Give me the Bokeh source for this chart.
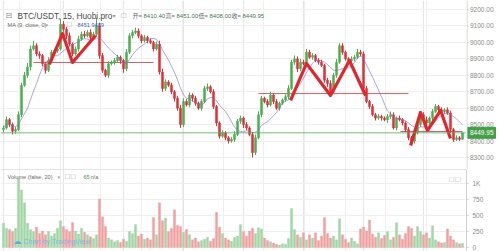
import numpy as np
from bokeh.plotting import figure
from bokeh.layouts import column, row
from bokeh.models import (ColumnDataSource, Range1d, FixedTicker, Grid, Label,
                          Span)
from bokeh.embed import file_html
from bokeh.resources import INLINE
from bokeh.core.properties import value

# ---------------- data ----------------
first_open = 8470.0
closes = [8480, 8530, 8500, 8460, 8470, 8560, 8740, 8800, 8850, 8960,
          8980, 8930, 8920, 8870, 8830, 8890, 8940, 8950, 8960, 9110,
          9080, 9040, 8990, 8930, 8960, 9020, 9050, 9040, 9060, 9030,
          9050, 9100, 8920, 8830, 8800, 8870, 8880, 8890, 8910, 8890,
          8840, 8940, 9040, 9060, 9070, 9040, 9010, 9030, 9010, 9000,
          8960, 8990, 8820, 8720, 8760, 8740, 8700, 8660, 8600, 8500,
          8640, 8620, 8680, 8660, 8630, 8600, 8640, 8720, 8730, 8700,
          8610, 8510, 8430, 8450, 8420, 8400, 8410, 8440, 8520, 8540,
          8500, 8480, 8440, 8330, 8420, 8560, 8660, 8640, 8620, 8680,
          8640, 8600, 8630, 8650, 8670, 8720, 8880, 8900, 8840, 8880,
          8870, 8940, 8910, 8920, 8890, 8880, 8860, 8770, 8750, 8700,
          8800, 8880, 8980, 8940, 8900, 8890, 8900, 8910, 8940, 8930,
          8720, 8640, 8610, 8560, 8540, 8550, 8540, 8530, 8550, 8560,
          8480, 8540, 8530, 8510, 8470, 8420, 8400, 8450, 8500, 8560,
          8530, 8510, 8540, 8580, 8610, 8590, 8580, 8590, 8570, 8470,
          8410, 8420, 8410.4, 8449.95]
wick_up = [15, 20, 10, 12, 15, 20, 15, 20, 25, 20,
           30, 15, 15, 10, 12, 20, 15, 10, 20, 35,
           20, 15, 20, 10, 15, 20, 15, 20, 15, 20,
           15, 50, 20, 15, 10, 15, 10, 15, 15, 10,
           10, 20, 15, 15, 20, 15, 10, 15, 10, 15,
           10, 15, 20, 20, 15, 10, 15, 10, 15, 20,
           20, 15, 15, 10, 15, 10, 15, 15, 20, 10,
           15, 10, 10, 15, 10, 10, 15, 20, 15, 15,
           10, 15, 10, 15, 20, 20, 15, 10, 15, 20,
           10, 15, 10, 10, 15, 20, 15, 20, 15, 20,
           15, 20, 15, 15, 10, 15, 15, 10, 15, 20,
           15, 20, 15, 15, 10, 10, 15, 15, 20, 15,
           15, 15, 10, 15, 10, 15, 10, 10, 15, 20,
           15, 10, 15, 10, 10, 15, 10, 15, 10, 15,
           15, 20, 10, 15, 15, 10, 15, 10, 15, 15,
           10, 15, 10, 1.05]
wick_dn = [15, 10, 15, 20, 15, 10, 15, 10, 15, 20,
           10, 15, 20, 15, 20, 10, 15, 10, 15, 10,
           15, 20, 15, 15, 10, 15, 10, 15, 10, 15,
           10, 15, 20, 15, 10, 15, 10, 15, 10, 20,
           25, 15, 10, 15, 10, 15, 15, 10, 15, 10,
           15, 10, 15, 20, 15, 10, 15, 20, 15, 20,
           15, 10, 15, 20, 15, 10, 15, 10, 15, 10,
           15, 20, 15, 10, 15, 15, 10, 15, 10, 15,
           20, 15, 10, 30, 15, 10, 15, 10, 15, 10,
           15, 10, 15, 10, 10, 15, 10, 15, 20, 15,
           10, 15, 10, 15, 10, 15, 10, 15, 20, 15,
           10, 15, 10, 15, 10, 15, 10, 15, 10, 15,
           15, 10, 15, 10, 15, 10, 15, 10, 20, 15,
           10, 15, 10, 15, 15, 15, 10, 15, 10, 15,
           10, 15, 10, 15, 10, 15, 10, 15, 10, 20,
           15, 10, 10, 2.4]
volumes = [380, 300, 280, 250, 300, 1080, 900, 700, 380, 280,
           250, 320, 220, 260, 200, 250, 180, 220, 300, 420,
           330, 280, 250, 390, 260, 210, 300, 240, 200, 170,
           140, 200, 760, 480, 330, 150, 120, 90, 110, 80,
           130, 100, 250, 220, 360, 180, 210, 130, 150, 120,
           470, 200, 700, 420, 460, 250, 300, 590, 350, 330,
           240, 280, 200, 120, 150, 90, 110, 130, 160, 100,
           140, 550, 320, 220, 150, 120, 100, 160, 180, 360,
           250, 180, 260, 300, 220, 310, 290, 150, 110, 90,
           70, 50, 40, 60, 50, 140, 610, 280, 200, 160,
           230, 120, 200, 150, 230, 110, 180, 470, 220, 150,
           180, 120, 450, 200, 130, 80, 150, 100, 60, 290,
           320, 260, 430, 210, 160, 230, 140, 190, 250, 120,
           160, 390, 200, 130, 220, 330, 300, 180, 330, 250,
           200, 230, 150, 340, 120, 90, 70, 80, 290, 180,
           120, 80, 60, 65]

price_ticks = [8300, 8400, 8500, 8600, 8700, 8800, 8900, 9000, 9100, 9200]
price_tick_labels = ["8300.00", "8400.00", "8500.00", "8600.00", "8700.00",
                     "8800.00", "8900.00", "9000.00", "9100.00", "9200.00"]
vol_ticks = [0, 250, 500, 750, 1000]
vol_tick_labels = {0: "0", 250: "250", 500: "500", 750: "750", 1000: "1K"}
time_grid = [5.4, 19.0, 32.4, 46.0, 59.6, 73.2, 86.7, 100.3, 113.9, 127.4, 141.0]

# chart drawings (bar index, price)
zig1_x = [15.3, 19.7, 23.0, 30.7]
zig1_y = [8866, 9054, 8878, 9042]
zig2_x = [95.7, 101.0, 109.0, 115.3, 120.7]
zig2_y = [8647, 8872, 8677, 8890, 8677]
zig3_x = [135.7, 139.0, 141.3, 145.7, 149.0]
zig3_y = [8373, 8574, 8464, 8586, 8416]
hline_level = [8878, 8689, 8458]
hline_start = [10, 85, 132.3]
hline_end = [50, 135, 153]

last_price = 8449.95
last_price_label = "8449.95"
header_vals = ["8410.40", "8451.00", "8408.00", "8449.95"]
header_keys = ["开=", "高=", "低=", "收="]
ma_value = "8451.9489"

# ---------------- derived ----------------
n = len(closes)
idx = np.arange(n)
c = np.array(closes, dtype=float)
o = np.array([first_open] + closes[:-1], dtype=float)
h = np.maximum(o, c) + np.array(wick_up, dtype=float)
l = np.minimum(o, c) - np.array(wick_dn, dtype=float)
up = c >= o
UP, DN = "#4caf50", "#dc3338"
VUP, VDN = "#9fd6a3", "#eea0a0"
colors = [UP if u else DN for u in up]
vcolors = [VUP if u else VDN for u in up]
ma = np.array([c[max(0, i - 8):i + 1].mean() for i in range(n)])

src = ColumnDataSource(dict(x=idx, o=o, c=c, h=h, l=l, top=np.maximum(o, c),
                            bot=np.minimum(o, c), col=colors, vcol=vcolors,
                            vol=volumes, ma=ma))

FONT = "Liberation Sans"
GRID = "#efefef"
AXC = "#8a8a8a"
AXL = "#cfcfcf"

XR = Range1d(-1, 154.33)
YR = Range1d(8227, 9255)

def bare(fig):
    fig.outline_line_color = None
    fig.min_border_left = 0
    fig.min_border_right = 0
    fig.min_border_top = 0
    fig.min_border_bottom = 0

# ---------------- price pane ----------------
p = figure(width=466, height=169, output_backend="svg", toolbar_location=None,
           x_range=XR, y_range=YR, y_axis_location=None, x_axis_location=None)
bare(p)
p.add_layout(Grid(dimension=1, ticker=FixedTicker(ticks=price_ticks), grid_line_color=GRID))
p.add_layout(Grid(dimension=0, ticker=FixedTicker(ticks=time_grid), grid_line_color=GRID))

p.add_layout(Span(location=last_price, dimension="width", line_color="#4caf50",
                  line_width=1, line_alpha=0.8))
p.segment(x0=hline_start, y0=hline_level, x1=hline_end, y1=hline_level,
          line_color="#c9444a", line_width=1, line_alpha=0.85)

p.segment(x0="x", y0="h", x1="x", y1="l", color="col", line_width=1, source=src)
p.vbar(x="x", width=0.7, top="top", bottom="bot", fill_color="col",
       line_color="col", line_width=0.5, source=src)
p.line(x="x", y="ma", line_color="#7d6fd0", line_width=0.9, line_alpha=0.7, source=src)

for zx, zy in ((zig1_x, zig1_y), (zig2_x, zig2_y), (zig3_x, zig3_y)):
    p.line(zx, zy, line_color="#e3262d", line_width=3.2, line_join="round")

def lab(fig, x, y, text, size, color, font=FONT, **kw):
    fig.add_layout(Label(x=x, y=y, x_units="screen", y_units="screen", text=text,
                         text_font_size=size, text_color=color, text_font=font,
                         text_baseline="middle", **kw))

lab(p, 5, 169 - 15, "⊟", "8px", "#8a8a8a", font="DejaVu Sans")
lab(p, 17, 169 - 15, "BTC/USDT, 15, Huobi.pro", "8.3px", "#4a4a4a")
lab(p, 112, 169 - 15, "▾", "6px", "#9a9a9a", font="DejaVu Sans")
lab(p, 120, 169 - 15, "☐", "7px", "#b0b0b0", font="DejaVu Sans")
kx = [132, 165, 198, 231]
for k, v, a in zip(header_keys, header_vals, kx):
    lab(p, a, 169 - 15, k, "6px", "#6a6a6a", font="Noto Sans CJK SC")
    lab(p, a + 11, 169 - 15, v, "6px", "#3f7a52")
lab(p, 7, 169 - 24, "MA (9, close, 0)", "5.6px", "#6a6a6a")
lab(p, 45, 169 - 24, "▾", "5px", "#9a9a9a", font="DejaVu Sans")
lab(p, 66, 169 - 24, "☐", "6.5px", "#b0b0b0", font="DejaVu Sans")
lab(p, 77, 169 - 24, ma_value, "5.6px", "#3c5fc8")

# ---------------- price scale (right) ----------------
ps = figure(width=33, height=169, output_backend="svg", toolbar_location=None,
            x_range=Range1d(0, 33), y_range=YR, y_axis_location=None,
            x_axis_location=None)
bare(ps)
ps.xgrid.visible = False
ps.ygrid.visible = False
ps.add_layout(Span(location=0.5, dimension="height", line_color=AXL, line_width=1))
ps.segment(x0=0, x1=2, y0=price_ticks, y1=price_ticks, line_color=AXL, line_width=1)
ps.text(x=3.5, y=price_ticks, text=price_tick_labels, text_font=value(FONT),
        text_font_size="6.5px", text_color=AXC, text_baseline="middle")
ps.rect(x=15, y=[last_price], width=28, height=11, width_units="screen",
        height_units="screen", fill_color="#43a047", line_color="#43a047")
ps.text(x=3.5, y=[last_price], text=[last_price_label], text_font=value(FONT),
        text_font_size="6.5px", text_color="white", text_baseline="middle")

# ---------------- volume pane ----------------
v = figure(width=499, height=82, output_backend="svg", toolbar_location=None,
           x_range=XR, y_range=Range1d(-62, 1219), y_axis_location="right",
           x_axis_location=None)
bare(v)
v.min_border_right = 33
v.ygrid.ticker = FixedTicker(ticks=vol_ticks)
v.ygrid.grid_line_color = GRID
v.add_layout(Grid(dimension=0, ticker=FixedTicker(ticks=time_grid), grid_line_color=GRID))
vax = v.yaxis[0]
vax.ticker = FixedTicker(ticks=vol_ticks)
vax.major_label_overrides = vol_tick_labels
vax.major_label_text_font_size = "6.5px"
vax.major_label_text_font = FONT
vax.major_label_text_color = AXC
vax.axis_line_color = AXL
vax.major_tick_line_color = AXL
vax.major_tick_out = 2
vax.major_tick_in = 0
vax.minor_tick_line_color = None
vax.major_label_standoff = 4
v.add_layout(Span(location=1219, dimension="width", line_color="#c8c8c8", line_width=1))
v.vbar(x="x", width=0.75, top="vol", bottom=0, fill_color="vcol", line_color="vcol",
       line_width=0.3, source=src)

lab(v, 7, 82 - 7, "Volume (false, 20)", "5.6px", "#6a6a6a")
lab(v, 57, 82 - 7, "▾", "5px", "#9a9a9a", font="DejaVu Sans")
lab(v, 64, 82 - 7, "☐☐", "6.5px", "#b8b8b8", font="DejaVu Sans")
lab(v, 83, 82 - 7, "65", "5.6px", "#3f9a52")
lab(v, 90, 82 - 7, "n/a", "5.6px", "#6a6a6a")
lab(v, 448, 82 - 10, "☐☐", "7px", "#c0c0c0", font="DejaVu Sans")
lab(v, 13, 82 - 72, "☁", "8px", "#5aa9e6", font="DejaVu Sans")
lab(v, 23, 82 - 72, "Chart by TradingView", "7px", "#6fb3ea", text_alpha=0.85)

layout = column(row(p, ps, spacing=0), v, spacing=0)
open("out.html", "w").write(file_html(layout, INLINE))
